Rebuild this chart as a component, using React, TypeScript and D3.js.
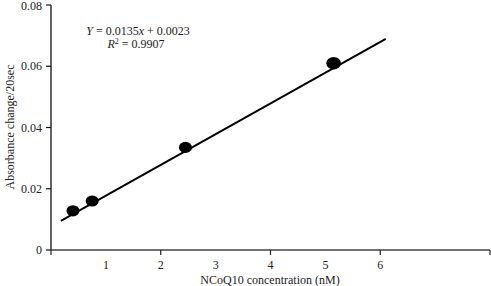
import React from "react";
import * as d3 from "d3";

const concentration = [0.4, 0.75, 2.45, 5.15];
const absorbance = [0.0128, 0.016, 0.0335, 0.061];
const pointSize = [1, 1, 1, 1.12];
const trendX = [0.18, 6.1];
const trendY = [0.0095, 0.0689];
const yTicks = [0, 0.02, 0.04, 0.06, 0.08];
const xTickMarks = [0, 2, 4, 6, 8];
const xTickLabels = [1, 2, 3, 4, 5, 6];

const W = 491, H = 286;
const left = 51, right = 490, top = 5, bottom = 250;

export default function App() {
  const x = d3.scaleLinear().domain([0, 8]).range([left, right]);
  const y = d3.scaleLinear().domain([0, 0.08]).range([bottom, top]);
  const line = d3.line<number>().x((d) => x(trendX[d])).y((d) => y(trendY[d]));
  const font = "'Liberation Serif', 'Times New Roman', serif";
  return (
    <svg width={W} height={H} style={{ position: "absolute", left: 0, top: 0, background: "#fff" }} fontFamily={font}>
      {/* y axis */}
      <line x1={left} x2={left} y1={top} y2={bottom} stroke="#111" strokeWidth={1.3} />
      {yTicks.map((t) => (
        <g key={t}>
          <line x1={left - 5} x2={left} y1={y(t)} y2={y(t)} stroke="#111" strokeWidth={1.2} />
          <text x={left - 9} y={Math.max(y(t), 6)} dy="0.35em" textAnchor="end" fontSize={12} fill="#222">
            {t === 0 ? "0" : t.toFixed(2)}
          </text>
        </g>
      ))}
      {/* x axis */}
      <line x1={left} x2={right} y1={bottom} y2={bottom} stroke="#444" strokeWidth={1.6} />
      {xTickMarks.map((t) => (
        <line key={t} x1={x(t)} x2={x(t)} y1={bottom} y2={bottom + 5} stroke="#222" strokeWidth={1.2} />
      ))}
      {xTickLabels.map((t) => (
        <text key={t} x={x(t)} y={265} dy="0.35em" textAnchor="middle" fontSize={12} fill="#222">
          {t}
        </text>
      ))}
      <text x={270} y={280} dy="0.35em" textAnchor="middle" fontSize={12} fill="#222">
        NCoQ10 concentration (nM)
      </text>
      <text transform={`translate(10,${127}) rotate(-90)`} dy="0.35em" textAnchor="middle" fontSize={12} fill="#222">
        Absorbance change/20sec
      </text>
      {/* trend line */}
      <path d={line([0, 1]) || ""} stroke="#000" strokeWidth={2} fill="none" />
      {/* points */}
      {concentration.map((c, i) => (
        <ellipse key={i} cx={x(c)} cy={y(absorbance[i])} rx={6.5 * pointSize[i]} ry={5.6 * pointSize[i]} fill="#000" />
      ))}
      {/* equation */}
      <text x={138} y={31} dy="0.35em" textAnchor="middle" fontSize={12} fill="#222">
        <tspan fontStyle="italic">Y</tspan> = 0.0135<tspan fontStyle="italic">x</tspan> + 0.0023
      </text>
      <text x={136} y={44} dy="0.35em" textAnchor="middle" fontSize={12} fill="#222">
        <tspan fontStyle="italic">R</tspan>
        <tspan fontSize={8} dy="-4">2</tspan>
        <tspan dy="4"> = 0.9907</tspan>
      </text>
    </svg>
  );
}
